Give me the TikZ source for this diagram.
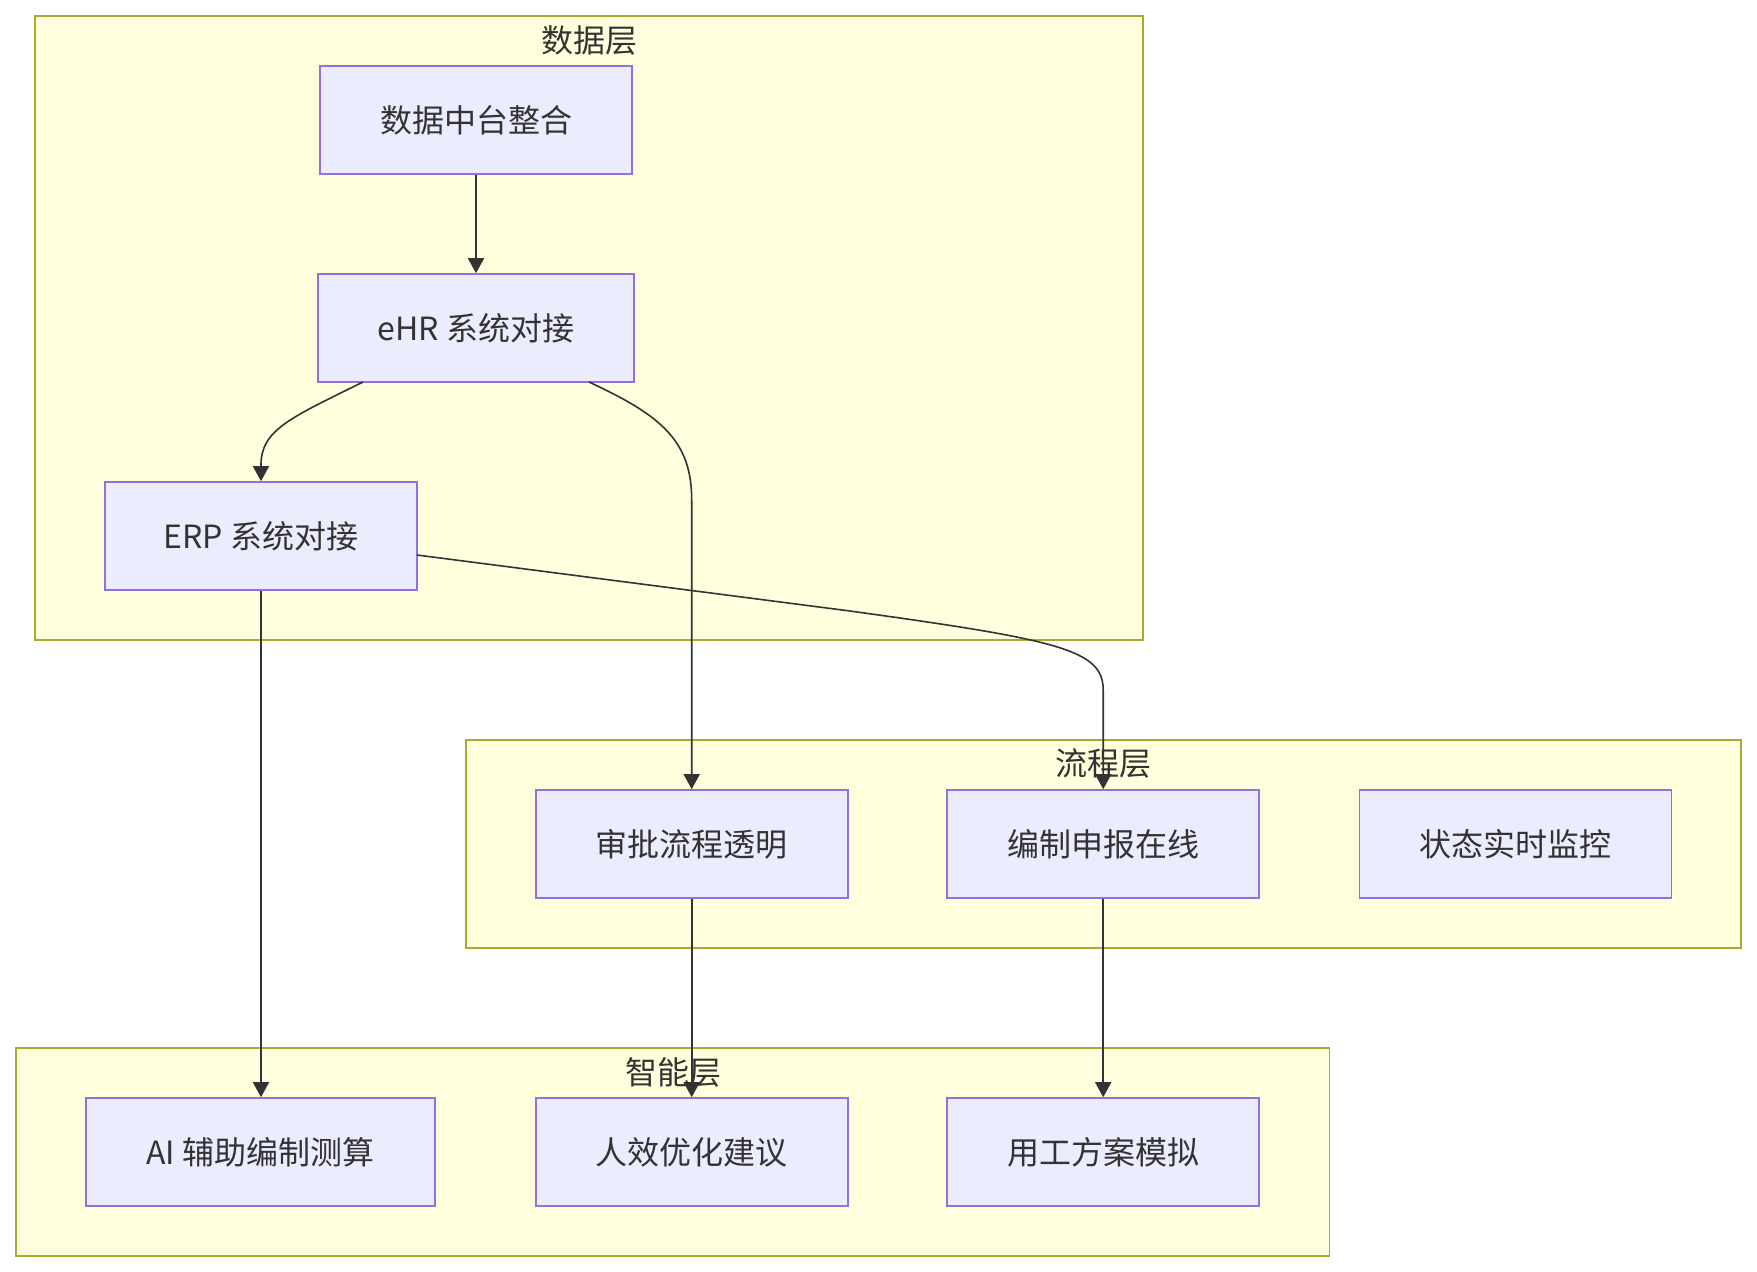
\documentclass[tikz,border=0pt]{standalone}
\usepackage{fontspec}
\setmainfont{Noto Sans CJK SC}
\usetikzlibrary{arrows.meta}
\definecolor{clfill}{HTML}{FFFFDE}
\definecolor{cldraw}{HTML}{AAAA33}
\definecolor{ndfill}{HTML}{ECECFF}
\definecolor{nddraw}{HTML}{9370DB}
\definecolor{txt}{HTML}{333333}
\tikzset{
  cluster/.style={fill=clfill, draw=cldraw, line width=1.6pt},
  cltitle/.style={text=txt, font=\fontsize{32pt}{38pt}\selectfont, inner sep=0pt},
  box/.style={rectangle, fill=ndfill, draw=nddraw, line width=1.6pt, text=txt,
    font=\fontsize{32pt}{38pt}\selectfont, minimum width=312pt, minimum height=108pt, inner sep=0pt},
  conn/.style={draw=txt, line width=1.6pt, -{Triangle[length=15pt,width=16pt]}}
}
\begin{document}
\begin{tikzpicture}[x=1pt,y=-1pt]
\useasboundingbox (0,0) rectangle (1757,1272);
\fill[white] (0,0) rectangle (1757,1272);
% clusters
\draw[cluster] (34.7,15.7) rectangle (1143,640);
\draw[cluster] (466,740) rectangle (1741,948);
\draw[cluster] (16,1048) rectangle (1329.5,1256);
\node[cltitle] (tdata) at (589,40) {数据层};
\node[cltitle] (tproc) at (1103.5,763) {流程层};
\node[cltitle] (tintel) at (673,1072) {智能层};
% nodes
\node[box] (n1) at (476,120) {数据中台整合};
\node[box, minimum width=316pt] (n2) at (476,328) {eHR 系统对接};
\node[box] (erp) at (261,536) {ERP 系统对接};
\node[box] (sp) at (691.7,844) {审批流程透明};
\node[box] (bz) at (1103.2,844) {编制申报在线};
\node[box] (zt) at (1515.5,844) {状态实时监控};
\node[box, minimum width=349pt] (ai) at (260.5,1152) {AI 辅助编制测算};
\node[box] (rx) at (691.7,1152) {人效优化建议};
\node[box] (yg) at (1103.2,1152) {用工方案模拟};
% connectors
\coordinate (c1) at (363,382);
\coordinate (c2) at (589,382);
\coordinate (c3) at (417,555);
\draw[conn] (n1.south) -- (n2.south |- n2.north);
\draw[conn] (c1) .. controls (290,418) and (261,430) .. (261,465) -- (erp.north);
\draw[conn] (c2) .. controls (660,415) and (691.7,440) .. (691.7,500) -- (sp.north);
\draw[conn] (c3) -- (850,611) .. controls (1060,640) and (1103.2,650) .. (1103.2,690) -- (bz.north);
\draw[conn] (erp.south) -- (erp.south |- ai.north);
\draw[conn] (sp.south) -- (rx.north);
\draw[conn] (bz.south) -- (yg.north);
\end{tikzpicture}
\end{document}
